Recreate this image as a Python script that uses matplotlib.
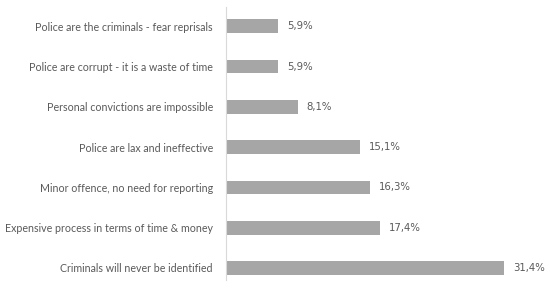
import matplotlib
matplotlib.use("Agg")
import matplotlib.pyplot as plt

reasons = [
    "Criminals will never be identified",
    "Expensive process in terms of time & money",
    "Minor offence, no need for reporting",
    "Police are lax and ineffective",
    "Personal convictions are impossible",
    "Police are corrupt - it is a waste of time",
    "Police are the criminals - fear reprisals",
]
shares = [31.4, 17.4, 16.3, 15.1, 8.1, 5.9, 5.9]
value_labels = ["31,4%", "17,4%", "16,3%", "15,1%", "8,1%", "5,9%", "5,9%"]

plt.rcParams['font.family'] = ['Lato', 'DejaVu Sans']
text_color = '#595959'

fig = plt.figure(figsize=(5.5, 2.9), dpi=100)
ax = fig.add_axes([226 / 550, 10 / 290, (550 - 226) / 550, 273 / 290])

ypos = list(range(len(reasons)))
ax.barh(ypos, shares, height=0.34, color='#a6a6a6')

for y, v, lab in zip(ypos, shares, value_labels):
    ax.text(v + 1.0, y, lab, va='center', ha='left', fontsize=7.3,
            family='DejaVu Sans', color=text_color)

ax.set_xlim(0, 36.6)
ax.set_ylim(-0.3, 6.48)
ax.set_yticks(ypos)
ax.set_yticklabels(reasons, fontsize=7.7, color=text_color)
ax.tick_params(axis='y', length=0, pad=9.5)
ax.set_xticks([])
for side in ['top', 'right', 'bottom']:
    ax.spines[side].set_visible(False)
ax.spines['left'].set_color('#d9d9d9')

fig.savefig("out.png", dpi=100)
